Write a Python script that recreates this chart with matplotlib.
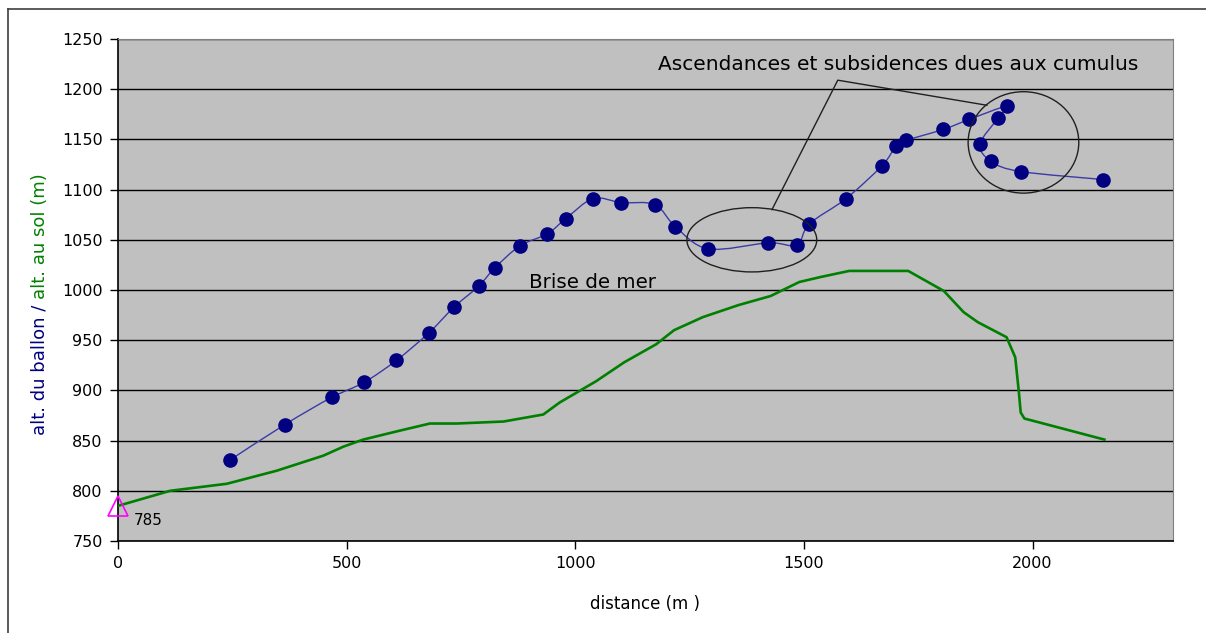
import numpy as np
import matplotlib.pyplot as plt
from matplotlib.path import Path
from matplotlib.patches import PathPatch, Ellipse
from matplotlib.lines import Line2D

plt.rcParams['font.family'] = ['DejaVu Sans']

# ballon (blue, smoothed line with markers)
dist_ballon = [246, 365, 467, 538, 609, 679, 735, 789, 824, 879, 939, 979, 1039, 1101,
               1174, 1219, 1291, 1422, 1484, 1512, 1592, 1671, 1701, 1724, 1805, 1862,
               1943, 1924, 1885, 1910, 1974, 2155]
alt_ballon = [831, 866, 893, 908, 930, 957, 983, 1004, 1022, 1044, 1056, 1071, 1091, 1087,
              1085, 1063, 1041, 1047, 1045, 1066, 1091, 1124, 1143, 1149, 1160, 1170,
              1183, 1171, 1145, 1128, 1118, 1110]

# sol (green)
dist_sol = [0, 114, 238, 347, 449, 493, 536, 617, 682, 740, 843, 930, 966, 1045, 1107,
            1177, 1216, 1279, 1357, 1427, 1490, 1537, 1599, 1728, 1806, 1849, 1880,
            1943, 1962, 1970, 1974, 1982, 2157]
alt_sol = [785, 800, 807, 820, 835, 844, 851, 860, 867, 867, 869, 876, 888, 909, 928,
           946, 960, 973, 985, 994, 1008, 1013, 1019, 1019, 999, 978, 968,
           953, 933, 898, 878, 872, 851]

depart_x, depart_y = 0, 785

W, H = 1206, 633
fig = plt.figure(figsize=(W / 100, H / 100), dpi=100)
ax = fig.add_axes([118 / W, 1 - 541 / H, (1173 - 118) / W, (541 - 39) / H])
ax.set_facecolor('#c0c0c0')

ax.set_xlim(0, 2307)
ax.set_ylim(750, 1250)
ax.set_xticks([0, 500, 1000, 1500, 2000])
ax.set_yticks(np.arange(750, 1251, 50))
ax.yaxis.grid(True, color='black', lw=1.0)
ax.set_axisbelow(True)
ax.tick_params(direction='out', length=6, width=1, labelsize=11.5, pad=5)
for s in ['top', 'right']:
    ax.spines[s].set_color('#808080')
for s in ['left', 'bottom']:
    ax.spines[s].set_color('black')
    ax.spines[s].set_linewidth(1.2)

# green ground line
ax.plot(dist_sol, alt_sol, color='#008000', lw=1.9, zorder=3)

# smoothed balloon line (Catmull-Rom as cubic Bezier)
P = np.column_stack([dist_ballon, alt_ballon]).astype(float)
verts = [P[0]]
codes = [Path.MOVETO]
n = len(P)
for i in range(n - 1):
    p0 = P[i - 1] if i > 0 else P[i]
    p1, p2 = P[i], P[i + 1]
    p3 = P[i + 2] if i + 2 < n else P[i + 1]
    verts += [p1 + (p2 - p0) / 6, p2 - (p3 - p1) / 6, p2]
    codes += [Path.CURVE4] * 3
ax.add_patch(PathPatch(Path(verts, codes), facecolor='none', edgecolor='#3a3aa8', lw=1.0, zorder=4))
ax.plot(dist_ballon, alt_ballon, ls='none', marker='o', ms=9.5, color='#000080', zorder=5)

# depart marker
ax.plot([depart_x], [depart_y], marker='^', ms=14, mfc='none', mec='#ff00ff', mew=1.2,
        clip_on=False, zorder=6)
ax.text(66, 770, str(depart_y), ha='center', va='center', fontsize=11)

# annotations
ax.add_patch(Ellipse((1386, 1050), 284, 64, fill=False, ec='#202020', lw=1.0, zorder=6))
ax.add_patch(Ellipse((1980, 1147), 242, 101, fill=False, ec='#202020', lw=1.0, zorder=6))
ax.plot([1430, 1574, 1900], [1080, 1209, 1184], color='#202020', lw=1.0, zorder=6)
ax.text(1706, 1225, 'Ascendances et subsidences dues aux cumulus', ha='center', va='center',
        fontsize=14.5)
ax.text(899, 1007, 'Brise de mer', ha='left', va='center', fontsize=14.3)

ax.set_xlabel('distance (m )', fontsize=12, labelpad=17)

# two-coloured y label
t1 = fig.text(40 / W, 0.5, 'alt. du ballon / ', rotation=90, color='#000080',
              fontsize=13, ha='center', va='bottom')
t2 = fig.text(40 / W, 0.5, 'alt. au sol (m)', rotation=90, color='#008000',
              fontsize=13, ha='center', va='bottom')
fig.canvas.draw()
r = fig.canvas.get_renderer()
h1 = t1.get_window_extent(r).height / H
h2 = t2.get_window_extent(r).height / H
yc = 1 - 304 / H
t1.set_y(yc - (h1 + h2) / 2)
t2.set_y(yc - (h1 + h2) / 2 + h1)

# outer frame
fig.add_artist(Line2D([8 / W, 8 / W], [0, 1 - 9 / H], color='#404040', lw=1.2))
fig.add_artist(Line2D([8 / W, 1], [1 - 9 / H, 1 - 9 / H], color='#404040', lw=1.2))

fig.savefig('out.png', dpi=100)
